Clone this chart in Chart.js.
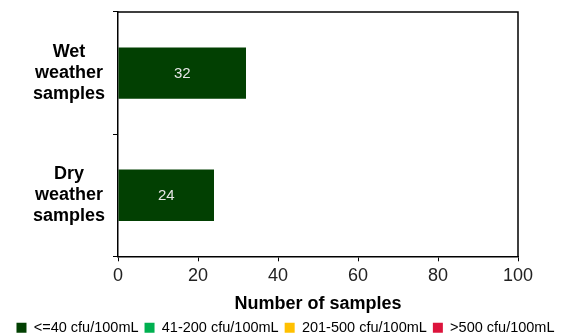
<!DOCTYPE html>
<html>
<head>
<meta charset="utf-8">
<script src="https://cdn.jsdelivr.net/npm/chart.js@4"></script>
<style>
  html, body { margin: 0; padding: 0; background: #fff; }
  #wrap { width: 571px; height: 336px; position: relative; }
</style>
</head>
<body>
<div id="wrap"><canvas id="chart"></canvas></div>
<script>
// categories (multi-line labels) and counts per bacteria band
var categories = [['Wet', 'weather', 'samples'], ['Dry', 'weather', 'samples']];
var seriesNames = ['<=40 cfu/100mL', '41-200 cfu/100mL', '201-500 cfu/100mL', '>500 cfu/100mL'];
var seriesColors = ['#024002', '#00b050', '#ffc000', '#dc143c'];
var lowCounts = [32, 24];
var midCounts = [0, 0];
var highCounts = [0, 0];
var veryHighCounts = [0, 0];
var xTicks = [0, 20, 40, 60, 80, 100];

var allSeries = [lowCounts, midCounts, highCounts, veryHighCounts];
var FONT = '"Liberation Sans", Arial, sans-serif';

// value labels in the middle of each non-empty bar
var barLabels = {
  id: 'barLabels',
  afterDatasetsDraw: function(chart) {
    var ctx = chart.ctx;
    ctx.save();
    ctx.font = '15px ' + FONT;
    ctx.fillStyle = '#e6e6e6';
    ctx.textAlign = 'center';
    ctx.textBaseline = 'middle';
    chart.data.datasets.forEach(function(ds, i) {
      var meta = chart.getDatasetMeta(i);
      meta.data.forEach(function(bar, j) {
        var v = ds.data[j];
        if (!v) return;
        ctx.fillText(String(v), (bar.x + bar.base) / 2, bar.y + 1);
      });
    });
    ctx.restore();
  }
};

// box around the plot area (top and right edges)
var plotBox = {
  id: 'plotBox',
  afterDraw: function(chart) {
    var a = chart.chartArea;
    var ctx = chart.ctx;
    ctx.save();
    ctx.strokeStyle = '#000';
    ctx.lineWidth = 1.5;
    ctx.beginPath();
    ctx.moveTo(a.left, a.top);
    ctx.lineTo(a.right, a.top);
    ctx.lineTo(a.right, a.bottom);
    ctx.stroke();
    ctx.restore();
  }
};

var ctx = document.getElementById('chart').getContext('2d');
new Chart(ctx, {
  type: 'bar',
  data: {
    labels: categories,
    datasets: allSeries.map(function(vals, i) {
      return {
        label: seriesNames[i],
        data: vals,
        backgroundColor: seriesColors[i],
        borderWidth: 0,
        barPercentage: 0.42,
        categoryPercentage: 1
      };
    })
  },
  options: {
    indexAxis: 'y',
    responsive: true,
    maintainAspectRatio: false,
    animation: false,
    // negative bottom pulls the legend's built-in bottom gap off the canvas
    layout: { padding: { left: 0, right: 0, top: 12, bottom: -9 } },
    scales: {
      x: {
        stacked: true,
        min: 0,
        max: 100,
        afterBuildTicks: function(scale) {
          scale.ticks = xTicks.map(function(v) { return { value: v }; });
        },
        grid: { drawOnChartArea: false, tickLength: 5, color: '#000', lineWidth: 1 },
        border: { color: '#000', width: 1.5 },
        ticks: {
          color: '#222',
          padding: 4,
          font: { family: FONT, size: 18 }
        },
        title: {
          display: true,
          text: 'Number of samples',
          color: '#000',
          padding: { top: 2, bottom: 0 },
          font: { family: FONT, size: 18, weight: 'bold' }
        }
      },
      y: {
        stacked: true,
        afterFit: function(scale) {
          scale.width = 118;
          scale.paddingTop = 0;
          scale.paddingBottom = 0;
        },
        grid: { drawOnChartArea: false, tickLength: 5, color: '#000', lineWidth: 1 },
        border: { color: '#000', width: 1.5 },
        ticks: {
          color: '#000',
          padding: 8,
          crossAlign: 'center',
          font: { family: FONT, size: 18, weight: 'bold', lineHeight: 1.15 }
        }
      },
      // empty right-hand strip so the plot stops where the reference does
      spacer: {
        axis: 'y',
        position: 'right',
        grid: { display: false },
        border: { display: false },
        ticks: { display: false },
        afterFit: function(scale) {
          scale.width = 53;
          scale.paddingTop = 0;
          scale.paddingBottom = 0;
        }
      }
    },
    plugins: {
      legend: {
        position: 'bottom',
        labels: {
          color: '#000',
          boxWidth: 10,
          boxHeight: 10,
          padding: 6,
          font: { family: FONT, size: 14.5 }
        }
      },
      tooltip: { enabled: false }
    }
  },
  plugins: [barLabels, plotBox]
});
</script>
</body>
</html>
